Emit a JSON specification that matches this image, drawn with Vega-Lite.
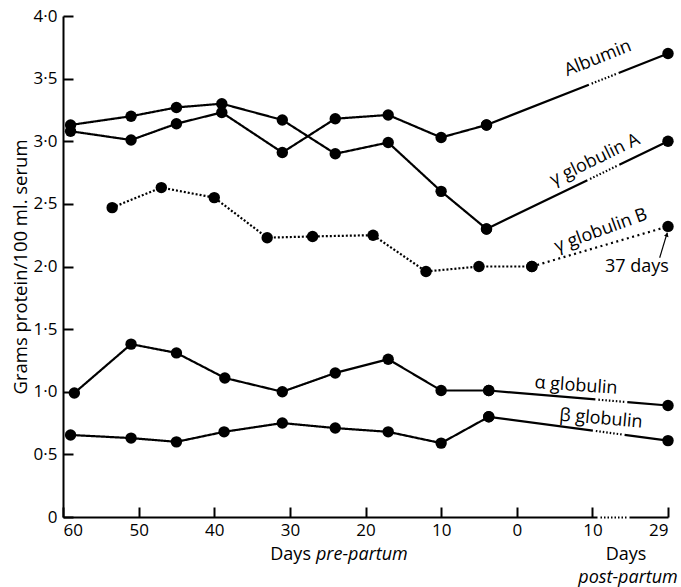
{
  "$schema": "https://vega.github.io/schema/vega-lite/v6.json",
  "autosize": "none",
  "width": 605,
  "height": 501,
  "padding": {"left": 63, "top": 16, "right": 13, "bottom": 70},
  "background": "white",
  "config": {
    "view": {"stroke": null},
    "font": "Open Sans",
    "text": {"font": "Open Sans", "fontSize": 18, "color": "black"}
  },
  "datasets": {
    "series": [
      {"series": "Albumin", "seg": "main", "pos": -59, "value": 3.08},
      {"series": "Albumin", "seg": "main", "pos": -51, "value": 3.01},
      {"series": "Albumin", "seg": "main", "pos": -45, "value": 3.14},
      {"series": "Albumin", "seg": "main", "pos": -39, "value": 3.23},
      {"series": "Albumin", "seg": "main", "pos": -31, "value": 2.91},
      {"series": "Albumin", "seg": "main", "pos": -24, "value": 3.18},
      {"series": "Albumin", "seg": "main", "pos": -17, "value": 3.21},
      {"series": "Albumin", "seg": "main", "pos": -10, "value": 3.03},
      {"series": "Albumin", "seg": "main", "pos": -4, "value": 3.13},
      {"series": "Albumin", "seg": "tail", "pos": -4, "value": 3.13},
      {"series": "Albumin", "seg": "tail", "pos": 20, "value": 3.70},
      {"series": "gamma A", "seg": "main", "pos": -59, "value": 3.13},
      {"series": "gamma A", "seg": "main", "pos": -51, "value": 3.20},
      {"series": "gamma A", "seg": "main", "pos": -45, "value": 3.27},
      {"series": "gamma A", "seg": "main", "pos": -39, "value": 3.30},
      {"series": "gamma A", "seg": "main", "pos": -31, "value": 3.17},
      {"series": "gamma A", "seg": "main", "pos": -24, "value": 2.90},
      {"series": "gamma A", "seg": "main", "pos": -17, "value": 2.99},
      {"series": "gamma A", "seg": "main", "pos": -10, "value": 2.60},
      {"series": "gamma A", "seg": "main", "pos": -4, "value": 2.30},
      {"series": "gamma A", "seg": "tail", "pos": -4, "value": 2.30},
      {"series": "gamma A", "seg": "tail", "pos": 20, "value": 3.00},
      {"series": "gamma B", "seg": "main", "pos": -53.5, "value": 2.47},
      {"series": "gamma B", "seg": "main", "pos": -47, "value": 2.63},
      {"series": "gamma B", "seg": "main", "pos": -40, "value": 2.55},
      {"series": "gamma B", "seg": "main", "pos": -33, "value": 2.23},
      {"series": "gamma B", "seg": "main", "pos": -27, "value": 2.24},
      {"series": "gamma B", "seg": "main", "pos": -19, "value": 2.25},
      {"series": "gamma B", "seg": "main", "pos": -12, "value": 1.96},
      {"series": "gamma B", "seg": "main", "pos": -5, "value": 2.00},
      {"series": "gamma B", "seg": "main", "pos": 2, "value": 2.00},
      {"series": "gamma B", "seg": "tail", "pos": 2, "value": 2.00},
      {"series": "gamma B", "seg": "tail", "pos": 20, "value": 2.32},
      {"series": "alpha", "seg": "main", "pos": -58.5, "value": 0.99},
      {"series": "alpha", "seg": "main", "pos": -51, "value": 1.38},
      {"series": "alpha", "seg": "main", "pos": -45, "value": 1.31},
      {"series": "alpha", "seg": "main", "pos": -38.6, "value": 1.11},
      {"series": "alpha", "seg": "main", "pos": -31, "value": 1.00},
      {"series": "alpha", "seg": "main", "pos": -24, "value": 1.15},
      {"series": "alpha", "seg": "main", "pos": -17, "value": 1.26},
      {"series": "alpha", "seg": "main", "pos": -10, "value": 1.01},
      {"series": "alpha", "seg": "main", "pos": -3.7, "value": 1.01},
      {"series": "alpha", "seg": "tail", "pos": -3.7, "value": 1.01},
      {"series": "alpha", "seg": "tail", "pos": 20, "value": 0.89},
      {"series": "beta", "seg": "main", "pos": -59, "value": 0.655},
      {"series": "beta", "seg": "main", "pos": -51, "value": 0.63},
      {"series": "beta", "seg": "main", "pos": -45, "value": 0.60},
      {"series": "beta", "seg": "main", "pos": -38.7, "value": 0.68},
      {"series": "beta", "seg": "main", "pos": -31, "value": 0.75},
      {"series": "beta", "seg": "main", "pos": -24, "value": 0.71},
      {"series": "beta", "seg": "main", "pos": -17, "value": 0.68},
      {"series": "beta", "seg": "main", "pos": -10, "value": 0.59},
      {"series": "beta", "seg": "main", "pos": -3.7, "value": 0.80},
      {"series": "beta", "seg": "tail", "pos": -3.7, "value": 0.80},
      {"series": "beta", "seg": "tail", "pos": 20, "value": 0.61}
    ]
  },
  "data": {"name": "series"},
  "resolve": {"scale": {"strokeDash": "independent"}},
  "layer": [
    {
      "transform": [{"filter": "datum.seg == 'main'"}],
      "mark": {"type": "line", "color": "black", "strokeWidth": 2.2},
      "encoding": {
        "x": {
          "field": "pos", "type": "quantitative",
          "scale": {"domain": [-60, 20], "nice": false, "zero": false},
          "axis": {
            "values": [-60, -50, -40, -30, -20, -10, 0, 10, 20],
            "labelExpr": "datum.value == 20 ? '29' : '' + abs(datum.value)",
            "title": null, "grid": false,
            "tickSize": -10, "tickWidth": 2, "tickColor": "black",
            "domainColor": "black", "domainWidth": 2,
            "domainDash": [534, 3, 1.5, 2, 1.5, 2, 1.5, 2, 1.5, 2, 1.5, 2, 1.5, 2, 1.5, 2, 1.5, 3, 200],
            "labelFont": "Open Sans", "labelFontSize": 17, "labelColor": "black",
            "labelPadding": 15, "labelFlush": true, "labelOverlap": false
          }
        },
        "y": {
          "field": "value", "type": "quantitative",
          "scale": {"domain": [0, 4], "nice": false},
          "axis": {
            "values": [0, 0.5, 1, 1.5, 2, 2.5, 3, 3.5, 4],
            "labelExpr": "datum.value == 0 ? '0' : replace(format(datum.value, '.1f'), '.', '·')",
            "title": "Grams protein/100 ml. serum",
            "titleFont": "Open Sans", "titleFontSize": 18.5, "titleFontWeight": "normal", "titleColor": "black",
            "titlePadding": 3,
            "grid": false,
            "tickSize": -10, "tickWidth": 2, "tickColor": "black",
            "domainColor": "black", "domainWidth": 2,
            "labelFont": "Open Sans", "labelFontSize": 17, "labelColor": "black",
            "labelPadding": 16, "labelFlush": false, "labelOverlap": false
          }
        },
        "detail": {"field": "series"},
        "strokeDash": {
          "field": "series", "type": "nominal", "legend": null,
          "scale": {
            "domain": ["Albumin", "gamma A", "gamma B", "alpha", "beta"],
            "range": [[1, 0], [1, 0], [2, 2], [1, 0], [1, 0]]
          }
        }
      }
    },
    {
      "transform": [{"filter": "datum.seg == 'tail'"}],
      "mark": {"type": "line", "color": "black", "strokeWidth": 2.2},
      "encoding": {
        "x": {"field": "pos", "type": "quantitative"},
        "y": {"field": "value", "type": "quantitative"},
        "detail": {"field": "series"},
        "strokeDash": {
          "field": "series", "type": "nominal", "legend": null,
          "scale": {
            "domain": ["Albumin", "gamma A", "gamma B", "alpha", "beta"],
            "range": [
              [110, 3, 1.5, 2, 1.5, 2, 1.5, 2, 1.5, 2, 1.5, 2, 1.5, 2, 1.5, 2, 1.5, 3, 300],
              [112, 3, 1.5, 2, 1.5, 2, 1.5, 2, 1.5, 2, 1.5, 2, 1.5, 2, 1.5, 2, 1.5, 2, 1.5, 3, 300],
              [2, 3.5],
              [107, 3, 1.5, 2, 1.5, 2, 1.5, 2, 1.5, 2, 1.5, 2, 1.5, 2, 1.5, 2, 1.5, 3, 300],
              [105, 3, 1.5, 2, 1.5, 2, 1.5, 2, 1.5, 2, 1.5, 2, 1.5, 2, 1.5, 2, 1.5, 3, 300]
            ]
          }
        }
      }
    },
    {
      "mark": {"type": "point", "filled": true, "color": "black", "opacity": 1, "size": 130},
      "encoding": {
        "x": {"field": "pos", "type": "quantitative"},
        "y": {"field": "value", "type": "quantitative"}
      }
    },
    {
      "data": {"values": [{"note": "37 days arrow"}]},
      "mark": {"type": "rule", "color": "black", "strokeWidth": 1.2},
      "encoding": {
        "x": {"datum": 18.9}, "y": {"datum": 2.07},
        "x2": {"datum": 19.9}, "y2": {"datum": 2.27}
      }
    },
    {
      "data": {"values": [{"note": "arrow head"}]},
      "mark": {"type": "point", "shape": "triangle-up", "filled": true, "color": "black", "opacity": 1, "size": 22, "angle": 18},
      "encoding": {"x": {"datum": 19.85}, "y": {"datum": 2.255}}
    },
    {
      "data": {"values": [{"label": "Albumin"}]},
      "mark": {"type": "text", "angle": 338, "align": "center", "baseline": "middle"},
      "encoding": {"x": {"datum": 10.74}, "y": {"datum": 3.66}, "text": {"field": "label"}}
    },
    {
      "data": {"values": [{"label": "γ globulin A"}]},
      "mark": {"type": "text", "angle": 334, "align": "center", "baseline": "middle"},
      "encoding": {"x": {"datum": 10.35}, "y": {"datum": 2.85}, "text": {"field": "label"}}
    },
    {
      "data": {"values": [{"label": "γ globulin B"}]},
      "mark": {"type": "text", "angle": 340, "align": "center", "baseline": "middle"},
      "encoding": {"x": {"datum": 11.14}, "y": {"datum": 2.285}, "text": {"field": "label"}}
    },
    {
      "data": {"values": [{"label": "37 days"}]},
      "mark": {"type": "text", "align": "center", "baseline": "middle"},
      "encoding": {"x": {"datum": 15.9}, "y": {"datum": 2.0}, "text": {"field": "label"}}
    },
    {
      "data": {"values": [{"label": "α  globulin"}]},
      "mark": {"type": "text", "angle": 4, "align": "center", "baseline": "middle"},
      "encoding": {"x": {"datum": 7.83}, "y": {"datum": 1.046}, "text": {"field": "label"}}
    },
    {
      "data": {"values": [{"label": "β globulin"}]},
      "mark": {"type": "text", "angle": 5, "align": "center", "baseline": "middle"},
      "encoding": {"x": {"datum": 11.14}, "y": {"datum": 0.782}, "text": {"field": "label"}}
    },
    {
      "data": {"values": [{"label": "Days"}]},
      "mark": {"type": "text", "align": "right", "baseline": "middle"},
      "encoding": {"x": {"datum": -27.21}, "y": {"datum": -0.3}, "text": {"field": "label"}}
    },
    {
      "data": {"values": [{"label": "pre-partum"}]},
      "mark": {"type": "text", "align": "left", "baseline": "middle", "fontStyle": "italic"},
      "encoding": {"x": {"datum": -26.55}, "y": {"datum": -0.3}, "text": {"field": "label"}}
    },
    {
      "data": {"values": [{"label": "Days"}]},
      "mark": {"type": "text", "align": "center", "baseline": "middle"},
      "encoding": {"x": {"datum": 14.45}, "y": {"datum": -0.3}, "text": {"field": "label"}}
    },
    {
      "data": {"values": [{"label": "post-partum"}]},
      "mark": {"type": "text", "align": "center", "baseline": "middle", "fontStyle": "italic"},
      "encoding": {"x": {"datum": 14.71}, "y": {"datum": -0.49}, "text": {"field": "label"}}
    }
  ]
}
